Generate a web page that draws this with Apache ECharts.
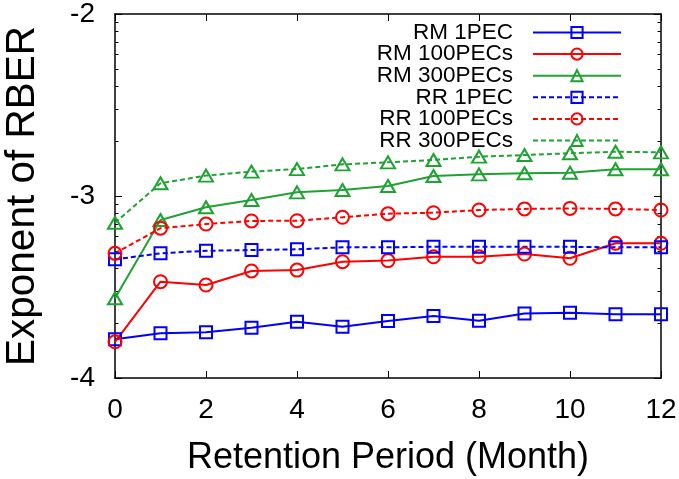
<!DOCTYPE html>
<html>
<head>
<meta charset="utf-8">
<script src="https://cdn.jsdelivr.net/npm/echarts@6/dist/echarts.min.js"></script>
<style>
html,body{margin:0;padding:0;background:#fff;}
#chart{width:679px;height:479px;}
</style>
</head>
<body>
<div id="chart"></div>
<script>
// ---- data (exponent of RBER vs retention month) ----
var months = [0,1,2,3,4,5,6,7,8,9,10,11,12];
var seriesNames = ['RM 1PEC','RM 100PECs','RM 300PECs','RR 1PEC','RR 100PECs','RR 300PECs'];
var rm1   = [-3.787,-3.754,-3.749,-3.724,-3.691,-3.718,-3.687,-3.659,-3.685,-3.645,-3.641,-3.650,-3.650];
var rm100 = [-3.801,-3.471,-3.489,-3.412,-3.407,-3.361,-3.355,-3.334,-3.334,-3.319,-3.342,-3.260,-3.260];
var rm300 = [-3.562,-3.132,-3.062,-3.022,-2.980,-2.967,-2.945,-2.890,-2.881,-2.875,-2.872,-2.853,-2.853];
var rr1   = [-3.348,-3.315,-3.301,-3.297,-3.293,-3.282,-3.282,-3.279,-3.279,-3.279,-3.279,-3.282,-3.282];
var rr100 = [-3.315,-3.177,-3.154,-3.137,-3.136,-3.117,-3.097,-3.092,-3.077,-3.071,-3.068,-3.071,-3.077];
var rr300 = [-3.147,-2.930,-2.888,-2.866,-2.852,-2.826,-2.815,-2.802,-2.784,-2.775,-2.765,-2.757,-2.760];
var yTickLabels = ['-4','-3','-2'];
var xTickLabels = ['0','2','4','6','8','10','12'];

var FONT = "'Liberation Sans', Arial, Helvetica, sans-serif";
var BLUE = '#0000ff', RED = '#ff0000', GREEN = '#1ea333';

// log-spaced minor ticks between exponent decades (axis structure)
var minorTicks = [];
for (var d = -4; d < -2; d++) {
  for (var k = 2; k <= 9; k++) minorTicks.push(d + Math.log10(k));
}

function pairs(vals) {
  return months.map(function (m, i) { return [m, vals[i]]; });
}

function mk(name, vals, color, symbol, dashed) {
  var size = symbol === 'triangle' ? [14, 12] : (symbol === 'circle' ? 13 : 12);
  return {
    name: name,
    type: 'line',
    data: pairs(vals),
    symbol: symbol,
    symbolSize: size,
    showAllSymbol: true,
    lineStyle: { color: color, width: 2, type: dashed ? [5, 3] : 'solid' },
    itemStyle: { color: 'rgba(0,0,0,0)', borderColor: color, borderWidth: 2 },
    emphasis: { disabled: true },
    z: 2
  };
}

var axisLineStyle = { show: true, lineStyle: { color: '#000', width: 1.5 } };
var minorTickStyle = { show: true, inside: true, length: 3.5, customValues: minorTicks, lineStyle: { color: '#000', width: 1 } };

var chart = echarts.init(document.getElementById('chart'), null, { renderer: 'canvas' });
chart.setOption({
  animation: false,
  backgroundColor: '#fff',
  textStyle: { fontFamily: FONT },
  grid: { left: 115, right: 18, top: 14, bottom: 101, containLabel: false, outerBoundsMode: 'none' },
  legend: {
    data: seriesNames,
    orient: 'vertical',
    right: 57,
    top: 21,
    padding: 0,
    align: 'right',
    itemWidth: 88,
    itemHeight: 14,
    itemGap: -1.4,
    selectedMode: false,
    textStyle: { fontFamily: FONT, fontSize: 22.5, lineHeight: 20, color: '#000', padding: [0, 15, 0, 0] }
  },
  xAxis: [
    {
      type: 'value', position: 'bottom', min: 0, max: 12, interval: 2,
      name: 'Retention Period (Month)', nameLocation: 'middle', nameGap: 62,
      nameTextStyle: { fontFamily: FONT, fontSize: 36, color: '#000' },
      axisLine: axisLineStyle,
      axisTick: { show: true, inside: true, length: 7, lineStyle: { color: '#000', width: 1 } },
      axisLabel: { fontFamily: FONT, fontSize: 28, color: '#000', margin: 18,
        formatter: function (v) { return xTickLabels[Math.round(v / 2)]; } },
      splitLine: { show: false }
    },
    {
      type: 'value', position: 'top', min: 0, max: 12, interval: 2,
      axisLine: axisLineStyle,
      axisTick: { show: true, inside: true, length: 7, lineStyle: { color: '#000', width: 1 } },
      axisLabel: { show: false },
      splitLine: { show: false }
    }
  ],
  yAxis: [
    {
      type: 'value', position: 'left', min: -4, max: -2, interval: 1,
      name: 'Exponent of RBER', nameLocation: 'middle', nameGap: 72,
      nameTextStyle: { fontFamily: FONT, fontSize: 40.5, color: '#000' },
      axisLine: axisLineStyle,
      axisTick: { show: true, inside: true, length: 7, lineStyle: { color: '#000', width: 1 } },
      axisLabel: { fontFamily: FONT, fontSize: 28, color: '#000', margin: 20,
        formatter: function (v) { return yTickLabels[Math.round(v + 4)]; } },
      splitLine: { show: false }
    },
    {
      type: 'value', position: 'left', min: -4, max: -2,
      axisLine: { show: false },
      axisTick: minorTickStyle,
      axisLabel: { show: false },
      splitLine: { show: false }
    },
    {
      type: 'value', position: 'right', min: -4, max: -2, interval: 1,
      axisLine: axisLineStyle,
      axisTick: { show: true, inside: true, length: 7, lineStyle: { color: '#000', width: 1 } },
      axisLabel: { show: false },
      splitLine: { show: false }
    },
    {
      type: 'value', position: 'right', min: -4, max: -2,
      axisLine: { show: false },
      axisTick: minorTickStyle,
      axisLabel: { show: false },
      splitLine: { show: false }
    }
  ],
  series: [
    mk(seriesNames[0], rm1, BLUE, 'rect', false),
    mk(seriesNames[1], rm100, RED, 'circle', false),
    mk(seriesNames[2], rm300, GREEN, 'triangle', false),
    mk(seriesNames[3], rr1, BLUE, 'rect', true),
    mk(seriesNames[4], rr100, RED, 'circle', true),
    mk(seriesNames[5], rr300, GREEN, 'triangle', true)
  ]
});
</script>
</body>
</html>
